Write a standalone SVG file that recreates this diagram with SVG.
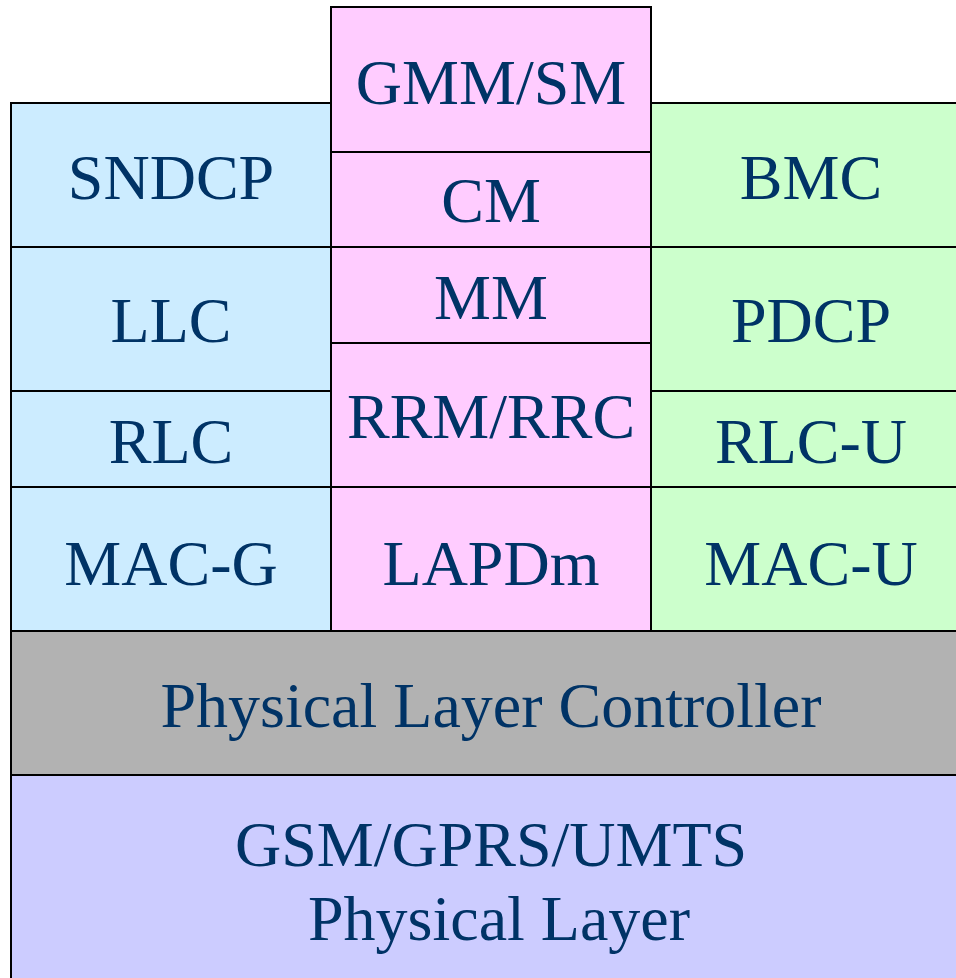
<svg xmlns="http://www.w3.org/2000/svg" width="956" height="978" viewBox="0 0 956 978">
<style>
rect{stroke:#000;stroke-width:2}
.b{fill:#CCECFF}.p{fill:#FFCCFF}.g{fill:#CCFFCC}.k{fill:#B2B2B2}.l{fill:#CCCCFF}
text{font-family:"Liberation Serif","Times New Roman",serif;font-size:64px;fill:#003366;text-anchor:middle}
</style>
<rect width="956" height="978" fill="#fff" style="stroke:none"/>
<g id="sndcp"><rect class="b" x="11" y="103" width="320" height="144"/><text x="171" y="199">SNDCP</text></g>
<g id="llc"><rect class="b" x="11" y="247" width="320" height="144"/><text x="171" y="342">LLC</text></g>
<g id="rlc"><rect class="b" x="11" y="391" width="320" height="96"/><text x="171" y="463">RLC</text></g>
<g id="mac-g"><rect class="b" x="11" y="487" width="320" height="144"/><text x="171" y="585">MAC-G</text></g>
<g id="gmm-sm"><rect class="p" x="331" y="7" width="320" height="145"/><text x="491" y="104">GMM/SM</text></g>
<g id="cm"><rect class="p" x="331" y="152" width="320" height="95"/><text x="491" y="222">CM</text></g>
<g id="mm"><rect class="p" x="331" y="247" width="320" height="96"/><text x="491" y="319">MM</text></g>
<g id="rrm-rrc"><rect class="p" x="331" y="343" width="320" height="144"/><text x="491" y="438">RRM/RRC</text></g>
<g id="lapdm"><rect class="p" x="331" y="487" width="320" height="144"/><text x="491" y="585">LAPDm</text></g>
<g id="bmc"><rect class="g" x="651" y="103" width="320" height="144"/><text x="811" y="199">BMC</text></g>
<g id="pdcp"><rect class="g" x="651" y="247" width="320" height="144"/><text x="811" y="342">PDCP</text></g>
<g id="rlc-u"><rect class="g" x="651" y="391" width="320" height="96"/><text x="811" y="463">RLC-U</text></g>
<g id="mac-u"><rect class="g" x="651" y="487" width="320" height="144"/><text x="811" y="585">MAC-U</text></g>
<g id="plc"><rect class="k" x="11" y="631" width="960" height="144"/><text x="491" y="727">Physical Layer Controller</text></g>
<g id="phy"><rect class="l" x="11" y="775" width="960" height="220"/><text x="491" y="866">GSM/GPRS/UMTS</text><text x="499" y="940">Physical Layer</text></g>
<g id="connectors"/>
</svg>
